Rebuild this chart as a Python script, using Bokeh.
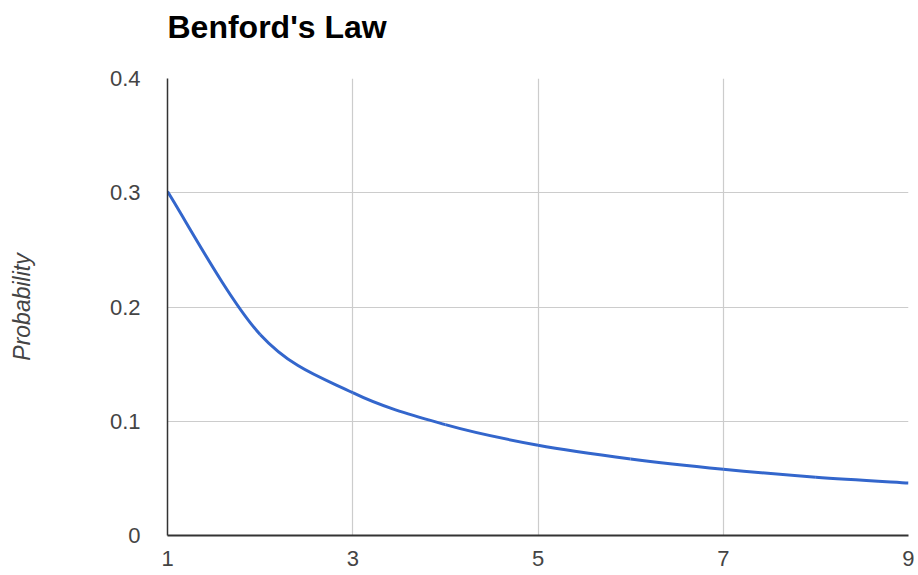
from bokeh.plotting import figure
from bokeh.models import FixedTicker, Title
from bokeh.embed import file_html
from bokeh.resources import INLINE

# Data
digits = [1, 2, 3, 4, 5, 6, 7, 8, 9]
probability = [0.301, 0.176, 0.125, 0.097, 0.079, 0.067, 0.058, 0.051, 0.046]
x_ticks = [1, 3, 5, 7, 9]
y_ticks = [0, 0.1, 0.2, 0.3, 0.4]
y_tick_labels = ["0", "0.1", "0.2", "0.3", "0.4"]
title_text = "Benford's Law"
y_title = "Probability"

FONT = "Liberation Sans"

p = figure(width=914, height=575, title=None,
           x_range=(1, 9), y_range=(0, 0.4),
           output_backend="svg", toolbar_location=None,
           min_border_left=167, min_border_right=6,
           min_border_top=78, min_border_bottom=40)
p.outline_line_color = None
p.background_fill_color = "white"
p.border_fill_color = "white"

# spacer between the plot area and the title
p.add_layout(Title(text="\u00a0", text_font=FONT, text_font_size="15px"), "above")
p.add_layout(Title(text=title_text, text_font=FONT, text_font_size="32px",
                   text_font_style="bold", text_color="#000000", align="left"), "above")

# Smooth curve through the data points (Catmull-Rom as cubic Bezier)
x0s, y0s, x1s, y1s, cx0s, cy0s, cx1s, cy1s = [], [], [], [], [], [], [], []
n = len(digits)
for i in range(n - 1):
    xp, yp = digits[max(i - 1, 0)], probability[max(i - 1, 0)]
    xa, ya = digits[i], probability[i]
    xb, yb = digits[i + 1], probability[i + 1]
    xn, yn = digits[min(i + 2, n - 1)], probability[min(i + 2, n - 1)]
    x0s.append(xa); y0s.append(ya); x1s.append(xb); y1s.append(yb)
    cx0s.append(xa + (xb - xp) / 6); cy0s.append(ya + (yb - yp) / 6)
    cx1s.append(xb - (xn - xa) / 6); cy1s.append(yb - (yn - ya) / 6)

p.bezier(x0=x0s, y0=y0s, x1=x1s, y1=y1s, cx0=cx0s, cy0=cy0s, cx1=cx1s, cy1=cy1s,
         line_color="#3366cc", line_width=3)

# Axes
p.xaxis.ticker = FixedTicker(ticks=x_ticks)
p.yaxis.ticker = FixedTicker(ticks=y_ticks)
p.yaxis.major_label_overrides = {t: l for t, l in zip(y_ticks, y_tick_labels)}

for ax in (p.xaxis[0], p.yaxis[0]):
    ax.major_tick_line_color = None
    ax.minor_tick_line_color = None
    ax.major_tick_out = 0
    ax.major_tick_in = 0
    ax.minor_tick_out = 0
    ax.minor_tick_in = 0
    ax.major_label_text_font = FONT
    ax.major_label_text_font_size = "22px"
    ax.major_label_text_color = "#444444"
    ax.axis_line_color = "#333333"

p.xaxis.axis_line_width = 2
p.yaxis.axis_line_width = 1.5
p.xaxis.major_label_standoff = 15
p.yaxis.major_label_standoff = 27

p.yaxis.axis_label = y_title
p.yaxis.axis_label_text_font = FONT
p.yaxis.axis_label_text_font_size = "23px"
p.yaxis.axis_label_text_font_style = "italic"
p.yaxis.axis_label_text_color = "#444444"
p.yaxis.axis_label_standoff = 72

p.xgrid.ticker = FixedTicker(ticks=x_ticks)
p.ygrid.ticker = FixedTicker(ticks=y_ticks)
p.grid.grid_line_color = "#cccccc"
p.grid.grid_line_width = 1.2

open("out.html", "w").write(file_html(p, INLINE))
